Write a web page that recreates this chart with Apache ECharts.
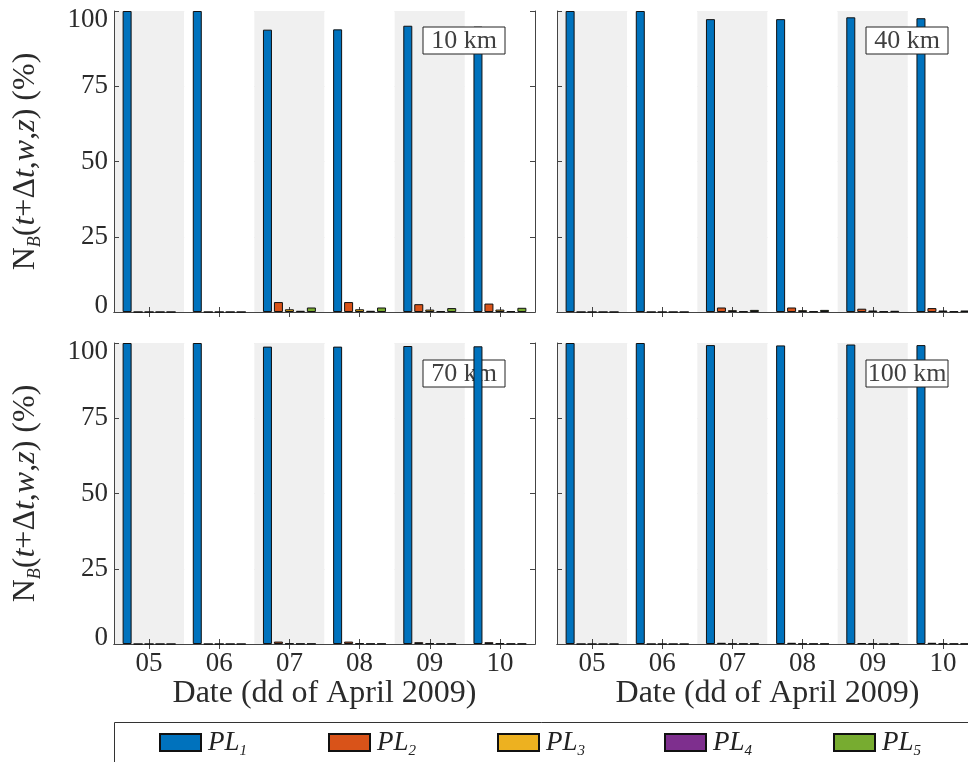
<!DOCTYPE html>
<html>
<head>
<meta charset="utf-8">
<script src="https://cdn.jsdelivr.net/npm/echarts@6/dist/echarts.min.js"></script>
<style>
  html, body { margin: 0; padding: 0; background: #fff; }
  #chart { width: 968px; height: 762px; }
</style>
</head>
<body>
<div id="chart"></div>
<script>
// Categories and labels
const days = ['05', '06', '07', '08', '09', '10'];
const yTicks = [0, 25, 50, 75, 100];
const altitudes = ['10 km', '40 km', '70 km', '100 km'];
const plNames = ['PL1', 'PL2', 'PL3', 'PL4', 'PL5'];

// Share of bursts per payload length (%), one array per altitude and class
const pl1_10km = [100, 100, 93.8, 93.9, 95.1, 94.8];
const pl2_10km = [0, 0, 3.3, 3.3, 2.6, 2.8];
const pl3_10km = [0, 0, 0.9, 0.9, 0.8, 0.8];
const pl4_10km = [0, 0, 0.4, 0.4, 0.3, 0.3];
const pl5_10km = [0, 0, 1.5, 1.5, 1.3, 1.4];

const pl1_40km = [100, 100, 97.3, 97.3, 97.9, 97.6];
const pl2_40km = [0, 0, 1.5, 1.5, 1.1, 1.3];
const pl3_40km = [0, 0, 0.6, 0.6, 0.5, 0.5];
const pl4_40km = [0, 0, 0.2, 0.2, 0.2, 0.2];
const pl5_40km = [0, 0, 0.7, 0.7, 0.4, 0.5];

const pl1_70km = [100, 100, 98.8, 98.8, 99.0, 98.9];
const pl2_70km = [0, 0, 0.8, 0.8, 0.6, 0.6];
const pl3_70km = [0, 0, 0.2, 0.2, 0.2, 0.2];
const pl4_70km = [0, 0, 0.1, 0.1, 0.1, 0.1];
const pl5_70km = [0, 0, 0.1, 0.1, 0.1, 0.1];

const pl1_100km = [100, 100, 99.3, 99.2, 99.5, 99.3];
const pl2_100km = [0, 0, 0.4, 0.4, 0.3, 0.4];
const pl3_100km = [0, 0, 0.1, 0.1, 0.1, 0.1];
const pl4_100km = [0, 0, 0.1, 0.1, 0.0, 0.1];
const pl5_100km = [0, 0, 0.1, 0.1, 0.1, 0.1];

const panels = [
  [pl1_10km, pl2_10km, pl3_10km, pl4_10km, pl5_10km],
  [pl1_40km, pl2_40km, pl3_40km, pl4_40km, pl5_40km],
  [pl1_70km, pl2_70km, pl3_70km, pl4_70km, pl5_70km],
  [pl1_100km, pl2_100km, pl3_100km, pl4_100km, pl5_100km]
];

const colors = ['#0072BD', '#D95319', '#EDB120', '#7E2F8E', '#77AC30'];
const FONT = 'Liberation Serif';
const INK = '#2b2b2b';
const AXIS = '#444';

const gridBoxes = [
  { left: 114, top: 11, width: 421, height: 301 },
  { left: 557, top: 11, width: 421, height: 301 },
  { left: 114, top: 343, width: 421, height: 301 },
  { left: 557, top: 343, width: 421, height: 301 }
];

const yName = '{n|N}{b|B}{n|(}{i|t}{n|+Δ}{i|t}{n|,}{i|w}{n|,}{i|z}{n|) (%)}';

const grid = [], xAxis = [], yAxis = [], series = [], graphic = [];

gridBoxes.forEach((g, p) => {
  const isLeft = p % 2 === 0;
  const isBottom = p >= 2;
  grid.push(Object.assign({ outerBoundsMode: 'none', containLabel: false }, g));

  // bottom category axis
  xAxis.push({
    type: 'category', gridIndex: p, data: days, position: 'bottom',
    boundaryGap: true,
    axisLine: { show: true, lineStyle: { color: AXIS, width: 1 } },
    axisTick: { show: true, inside: true, length: 5, alignWithLabel: true, lineStyle: { color: AXIS } },
    axisLabel: {
      show: isBottom, interval: 0, margin: 6,
      fontFamily: FONT, fontSize: 27, color: INK
    },
    splitLine: { show: false },
    splitArea: { show: true, interval: 0, areaStyle: { color: ['#f0f0f0', '#ffffff'] } },
    name: isBottom ? 'Date (dd of April 2009)' : '',
    nameLocation: 'middle', nameGap: 33,
    nameTextStyle: { fontFamily: FONT, fontSize: 32, color: INK }
  });
  // top mirror axis
  xAxis.push({
    type: 'category', gridIndex: p, data: days, position: 'top',
    boundaryGap: true,
    axisLine: { show: true, lineStyle: { color: AXIS, width: 1 } },
    axisTick: { show: true, inside: true, length: 5, alignWithLabel: true, lineStyle: { color: AXIS } },
    axisLabel: { show: false },
    splitLine: { show: false }, splitArea: { show: false }
  });

  // left value axis
  yAxis.push({
    type: 'value', gridIndex: p, min: yTicks[0], max: yTicks[yTicks.length - 1], interval: 25,
    position: 'left',
    axisLine: { show: true, lineStyle: { color: AXIS, width: 1 } },
    axisTick: { show: true, inside: true, length: 5, lineStyle: { color: AXIS } },
    axisLabel: {
      show: isLeft, margin: 6, fontFamily: FONT, fontSize: 27, color: INK,
      formatter: v => v === 100 ? '{hi|100}' : (v === 0 ? '{lo|0}' : '{n|' + v + '}'),
      rich: {
        n: { fontFamily: FONT, fontSize: 27, color: INK },
        hi: { fontFamily: FONT, fontSize: 27, color: INK, padding: [18, 0, 0, 0] },
        lo: { fontFamily: FONT, fontSize: 27, color: INK, padding: [0, 0, 12, 0] }
      }
    },
    splitLine: { show: true, lineStyle: { color: '#e3e3e3', width: 1 } },
    splitArea: { show: false },
    name: isLeft ? yName : '',
    nameLocation: 'middle', nameRotate: 90, nameGap: 70,
    nameTextStyle: {
      fontFamily: FONT, fontSize: 32, color: INK,
      rich: {
        n: { fontFamily: FONT, fontSize: 32, color: INK, lineHeight: 36 },
        i: { fontFamily: FONT, fontSize: 32, fontStyle: 'italic', color: INK, lineHeight: 36 },
        b: { fontFamily: FONT, fontSize: 18, fontStyle: 'italic', color: INK, lineHeight: 18, verticalAlign: 'bottom' }
      }
    }
  });
  // right mirror axis
  yAxis.push({
    type: 'value', gridIndex: p, min: yTicks[0], max: yTicks[yTicks.length - 1], interval: 25,
    position: 'right',
    axisLine: { show: true, lineStyle: { color: AXIS, width: 1 } },
    axisTick: { show: true, inside: true, length: 5, lineStyle: { color: AXIS } },
    axisLabel: { show: false },
    splitLine: { show: false }, splitArea: { show: false }
  });

  panels[p].forEach((vals, k) => {
    series.push({
      type: 'bar', name: plNames[k],
      xAxisIndex: 2 * p, yAxisIndex: 2 * p,
      data: vals,
      barWidth: 9, barGap: '22%',
      itemStyle: { color: colors[k], borderColor: '#111', borderWidth: 1 },
      emphasis: { disabled: true },
      animation: false
    });
  });

  // altitude tag; the 70 km tag sits beneath the bars
  const bx = g.left + 309, by = g.top + (isBottom ? 17 : 16);
  const z = p === 2 ? 1 : 10;
  graphic.push({
    type: 'rect', z: z, silent: true,
    shape: { x: bx, y: by, width: 82, height: 27 },
    style: { fill: '#fff', stroke: '#222', lineWidth: 1 }
  });
  graphic.push({
    type: 'text', z: z + 0.1, silent: true,
    x: bx + 41, y: by + 14,
    style: {
      text: altitudes[p], font: '26px "' + FONT + '"', fill: '#404040',
      align: 'center', verticalAlign: 'middle'
    }
  });
});

// legend frame
graphic.push({
  type: 'rect', z: 0, silent: true,
  shape: { x: 114.5, y: 722.5, width: 900, height: 80 },
  style: { fill: '#fff', stroke: '#333', lineWidth: 1 }
});

const legendLeft = [159, 328, 497, 664, 833];
const legend = plNames.map((nm, k) => ({
  data: [nm], left: legendLeft[k], top: 729, padding: 0,
  itemWidth: 41, itemHeight: 17, itemGap: 7, icon: 'rect',
  selectedMode: false,
  formatter: name => '{p|PL}{s|' + name.slice(2) + '}',
  textStyle: {
    color: '#222', padding: [0, 0, 0, 2],
    rich: {
      p: { fontFamily: FONT, fontSize: 27, fontStyle: 'italic', color: '#222', lineHeight: 32 },
      s: { fontFamily: FONT, fontSize: 15, fontStyle: 'italic', color: '#222', lineHeight: 15, verticalAlign: 'bottom' }
    }
  }
}));

const chart = echarts.init(document.getElementById('chart'), null, { renderer: 'canvas' });
chart.setOption({
  backgroundColor: '#ffffff',
  animation: false,
  grid, xAxis, yAxis, series, legend, graphic
});
</script>
</body>
</html>
